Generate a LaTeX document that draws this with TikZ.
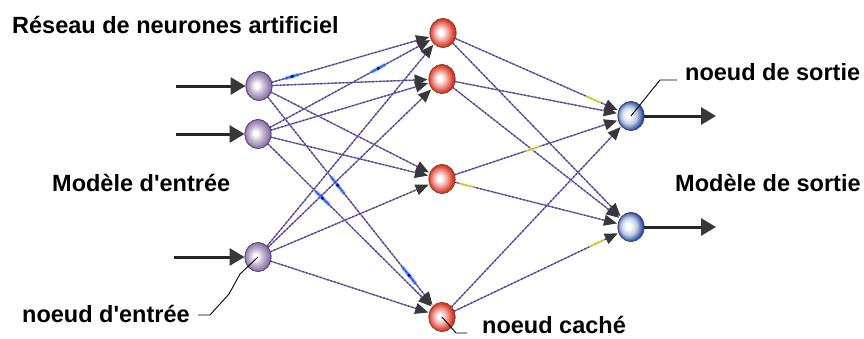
\documentclass[tikz,border=0pt]{standalone}
\usepackage{fontspec}
\newfontfamily\labelfont{Liberation Sans}
\usetikzlibrary{arrows.meta,shapes.geometric,calc}
\definecolor{lnk}{RGB}{120,114,155}
\definecolor{dotc}{RGB}{80,45,170}
\definecolor{headc}{RGB}{55,55,60}
\definecolor{inc}{RGB}{140,118,165}
\definecolor{hidc}{RGB}{220,60,45}
\definecolor{outc}{RGB}{45,85,160}
\pgfdeclareradialshading{inball}{\pgfpoint{-5bp}{1bp}}{color(0bp)=(white); color(4bp)=(white); color(14bp)=(inc!55!white); color(24bp)=(inc); color(28bp)=(inc!70!black); color(50bp)=(inc!70!black)}
\pgfdeclareradialshading{hidball}{\pgfpoint{-5bp}{1bp}}{color(0bp)=(white); color(4bp)=(white); color(13bp)=(hidc!45!white); color(23bp)=(hidc); color(28bp)=(hidc!75!black); color(50bp)=(hidc!75!black)}
\pgfdeclareradialshading{outball}{\pgfpoint{-6bp}{2bp}}{color(0bp)=(white); color(5bp)=(white); color(15bp)=(outc!30!white); color(25bp)=(outc); color(30bp)=(outc!70!black); color(50bp)=(outc!70!black)}
\begin{document}
\begin{tikzpicture}[x=1pt,y=-1pt,
  neuron/.style={ellipse,minimum width=26pt,minimum height=29pt,inner sep=0pt,line width=0.8pt},
  inneuron/.style={neuron,shading=inball,draw={rgb,255:red,95;green,70;blue,140}},
  hidneuron/.style={neuron,shading=hidball,draw={rgb,255:red,150;green,70;blue,40}},
  outneuron/.style={neuron,shading=outball,draw={rgb,255:red,70;green,60;blue,150}},
  conn/.style={draw=lnk,line width=1.3pt,-{Triangle[length=13pt,width=11pt,color=headc]},shorten >=1pt,
    postaction={draw=dotc,dash pattern=on 1.3pt off 2.4pt,line width=1.3pt,-,shorten >=13pt}},
  bigarrow/.style={draw=black!85,line width=3pt,-{Triangle[length=15pt,width=17pt,color=headc]}},
  lbl/.style={font=\labelfont\fontsize{23.5pt}{27pt}\selectfont\bfseries,inner sep=0pt,anchor=base west},
  leader/.style={draw=black,line width=0.9pt},
  bluemark/.style={draw=blue!60!cyan,line width=3.5pt,opacity=0.5,line cap=round},
  bluedot/.style={fill=blue!85!black},
  yelmark/.style={draw=yellow!60!white,line width=4pt,opacity=0.6,line cap=round}
]
\useasboundingbox (0,0) rectangle (864,338);
\path (259,86) coordinate (pI1) (258,134) coordinate (pI2) (258,257) coordinate (pI3)
      (443,33) coordinate (pH1) (442,79) coordinate (pH2) (442,179) coordinate (pH3) (442,317) coordinate (pH4)
      (631,116) coordinate (pO1) (631,227) coordinate (pO2);
\node[inneuron] (I1) at (pI1) {};
\node[inneuron] (I2) at (pI2) {};
\node[inneuron] (I3) at (pI3) {};
\node[hidneuron] (H1) at (pH1) {};
\node[hidneuron] (H2) at (pH2) {};
\node[hidneuron] (H3) at (pH3) {};
\node[hidneuron] (H4) at (pH4) {};
\node[outneuron] (O1) at (pO1) {};
\node[outneuron] (O2) at (pO2) {};
% connections
\foreach \i in {I1,I2,I3}{\foreach \h in {H1,H2,H3,H4}{\draw[conn] (\i) -- (\h);}}
\foreach \h in {H1,H2,H3,H4}{\foreach \o in {O1,O2}{\draw[conn] (\h) -- (\o);}}
% signal marks
\foreach \a/\b/\t in {I1/H1/0.18,I2/H1/0.65,I1/H4/0.43,I2/H4/0.35,I1/H4/0.82}{
  \draw[bluemark] ($(\a)!\t-0.035!(\b)$) -- ($(\a)!\t+0.035!(\b)$);
  \fill[bluedot] ($(\a)!\t!(\b)$) circle (1.8pt);}
\foreach \a/\b/\t in {H1/O1/0.80,H3/O1/0.48,H3/O2/0.13,H4/O2/0.82}{
  \draw[yelmark] ($(\a)!\t-0.03!(\b)$) -- ($(\a)!\t+0.03!(\b)$);}
% redraw nodes on top
\node[inneuron] at (pI1) {};
\node[inneuron] at (pI2) {};
\node[inneuron] at (pI3) {};
\node[hidneuron] at (pH1) {};
\node[hidneuron] at (pH2) {};
\node[hidneuron] at (pH3) {};
\node[hidneuron] at (pH4) {};
\node[outneuron] at (pO1) {};
\node[outneuron] at (pO2) {};
% input / output arrows
\coordinate (in1) at (176,86);
\coordinate (in2) at (176,134);
\coordinate (in3) at (174,257);
\coordinate (out1) at (716,116);
\coordinate (out2) at (716,227);
\draw[bigarrow] (in1) -- (I1);
\draw[bigarrow] (in2) -- (I2);
\draw[bigarrow] (in3) -- (I3);
\draw[bigarrow] (O1) -- (out1);
\draw[bigarrow] (O2) -- (out2);
% labels
\node[lbl] (t1) at (12,33) {Réseau de neurones artificiel};
\node[lbl] (t2) at (52,191) {Modèle d'entrée};
\node[lbl] (t3) at (22,322) {noeud d'entrée};
\node[lbl] (t4) at (685,80) {noeud de sortie};
\node[lbl] (t5) at (675,191) {Modèle de sortie};
\node[lbl] (t6) at (482,333) {noeud caché};
% leaders
\coordinate (l3a) at (198,315);
\coordinate (l3b) at (210,315);
\coordinate (l4a) at (677,80);
\coordinate (l4b) at (660,80);
\coordinate (l6a) at (456,333);
\coordinate (l6b) at (467,333);
\draw[leader] (l3a) -- (l3b) -- (229,294) -- (240,274) -- (I3.center);
\draw[leader] (l4a) -- (l4b) -- (O1.center);
\draw[leader] (H4.center) -- (l6a) -- (l6b);
\end{tikzpicture}
\end{document}
